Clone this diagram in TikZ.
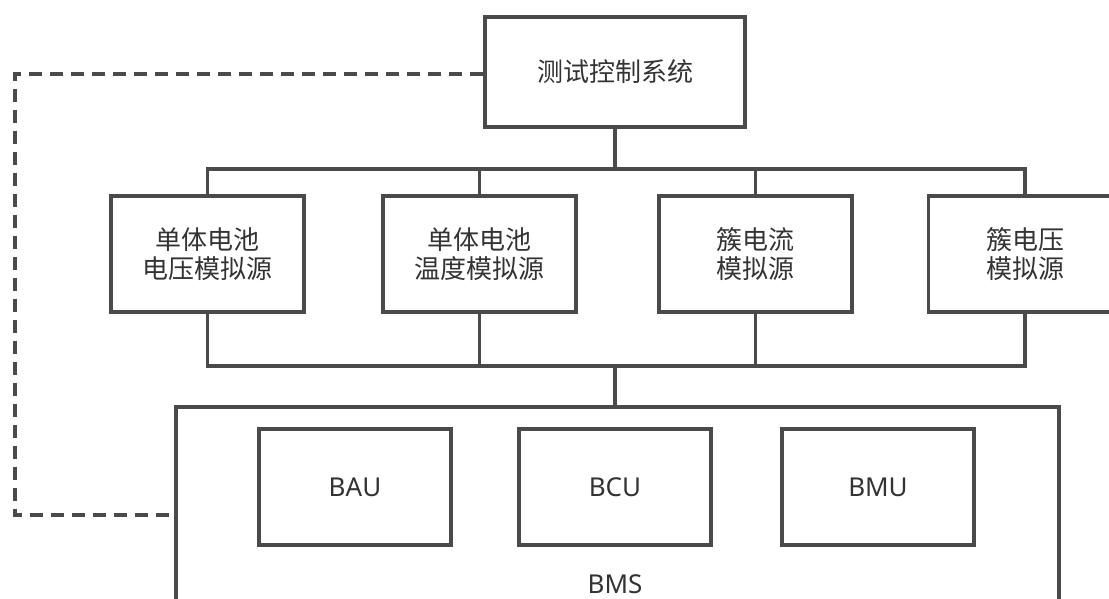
\documentclass[tikz,border=0pt]{standalone}
\usepackage{fontspec}
\setmainfont{Noto Sans}
\newfontfamily\cjk{Noto Sans CJK SC}
\definecolor{linec}{HTML}{4A4A4A}
\definecolor{textc}{HTML}{333333}
\begin{document}
\begin{tikzpicture}[x=1pt,y=-1pt,
  box/.style={draw=linec,line width=3.2pt,rectangle,inner sep=0pt,text=textc,align=center,
              font=\cjk\fontsize{26}{29}\selectfont},
  srcbox/.style={box,minimum width=193pt,minimum height=116pt},
  unitbox/.style={box,minimum width=192pt,minimum height=116pt,font=\fontsize{26}{29}\selectfont},
  conn/.style={draw=linec,line width=3.2pt},
  dashconn/.style={draw=linec,line width=3.2pt,dash pattern=on 13pt off 8pt}]
\useasboundingbox (0,0) rectangle (1109,599);
\clip (0,0) rectangle (1109,599);
% top
\node[box,minimum width=260pt,minimum height=110pt] (top) at (615,72) {测试控制系统};
% sources
\node[srcbox] (b1) at (207.5,254) {单体电池\\电压模拟源};
\node[srcbox] (b2) at (479.5,254) {单体电池\\温度模拟源};
\node[srcbox] (b3) at (755.5,254) {簇电流\\模拟源};
\node[srcbox] (b4) at (1025,254) {簇电压\\模拟源};
% BMS
\node[box,minimum width=883pt,minimum height=223pt] (bms) at (617.5,518.5) {};
\node[text=textc,font=\fontsize{26}{29}\selectfont] (bmslabel) at (615,584) {BMS};
\node[unitbox] (bau) at (355,487) {BAU};
\node[unitbox] (bcu) at (615,487) {BCU};
\node[unitbox] (bmu) at (878,487) {BMU};
% upper bus
\coordinate (ub) at (615,169);
\coordinate (lb) at (615,366);
\draw[conn] (b1.north) |- (ub) -| (b4.north);
\draw[conn] (b2.north) -- (b2.north |- ub);
\draw[conn] (b3.north) -- (b3.north |- ub);
\draw[conn] (top.south) -- (ub);
% lower bus
\draw[conn] (b1.south) |- (lb) -| (b4.south);
\draw[conn] (b2.south) -- (b2.south |- lb);
\draw[conn] (b3.south) -- (b3.south |- lb);
\draw[conn] (lb) -- (lb |- bms.north);
% dashed feedback
\coordinate (dl) at (15,515);
\draw[dashconn] (top.west |- 0,74) -| (dl) -- (dl -| bms.west);
\end{tikzpicture}
\end{document}
